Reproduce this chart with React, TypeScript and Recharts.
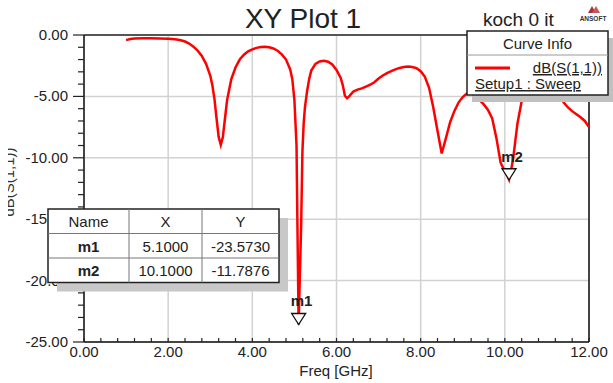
import React from 'react';
import {
  LineChart,
  Line,
  XAxis,
  YAxis,
  CartesianGrid,
  ReferenceLine,
  ReferenceDot,
} from 'recharts';

// Sweep frequencies (GHz) and return loss dB(S(1,1))
const freqGHz = [
  1.0, 1.1, 1.2, 1.4, 1.6, 1.8, 2.0, 2.1, 2.2, 2.3, 2.4, 2.5, 2.6, 2.7, 2.8, 2.9,
  3.0, 3.05, 3.1, 3.15, 3.2, 3.25, 3.3, 3.35, 3.4, 3.5, 3.6, 3.7, 3.8, 3.9,
  4.0, 4.1, 4.2, 4.3, 4.4, 4.5, 4.6, 4.7, 4.8, 4.9, 4.95,
  5.0, 5.05, 5.07, 5.1, 5.16, 5.19, 5.22, 5.25, 5.3, 5.35, 5.4, 5.5, 5.6, 5.7, 5.8, 5.9,
  6.0, 6.1, 6.15, 6.2, 6.25, 6.3, 6.4, 6.5, 6.6, 6.7, 6.8, 6.9,
  7.0, 7.1, 7.2, 7.3, 7.4, 7.5, 7.6, 7.7, 7.8, 7.9,
  8.0, 8.1, 8.2, 8.3, 8.4, 8.5, 8.6, 8.7, 8.8, 8.9,
  9.0, 9.1, 9.2, 9.3, 9.4, 9.5, 9.6, 9.7, 9.8, 9.9,
  10.0, 10.05, 10.1, 10.15, 10.2, 10.25, 10.3, 10.4, 10.5, 10.6, 10.8,
  11.0, 11.2, 11.3, 11.4, 11.5, 11.6, 11.7, 11.8, 11.9, 12.0,
];
const s11dB = [
  -0.42, -0.32, -0.29, -0.27, -0.27, -0.28, -0.3, -0.33, -0.37, -0.43, -0.53, -0.7, -0.95, -1.28, -1.7, -2.35,
  -3.3, -4.1, -5.2, -6.8, -8.3, -8.95, -8.3, -6.8, -5.3, -3.6, -2.65, -2.0, -1.6, -1.33,
  -1.17, -1.05, -0.98, -0.96, -1.0, -1.1, -1.28, -1.58, -2.0, -2.8, -3.6,
  -5.3, -9.0, -15.0, -23.573, -15.5, -9.5, -7.2, -5.9, -4.6, -3.6, -2.9, -2.35, -2.15, -2.1, -2.18, -2.4,
  -2.85, -3.5, -4.1, -4.95, -5.15, -5.0, -4.6, -4.45, -4.35, -4.2, -4.05, -3.85,
  -3.55, -3.3, -3.1, -2.95, -2.8, -2.68, -2.6, -2.57, -2.6, -2.7,
  -2.95, -3.4, -4.3, -5.9, -7.8, -9.65, -8.4, -7.1, -6.2, -5.5,
  -5.05, -4.75, -4.7, -4.9, -5.3, -5.65, -6.1, -6.8, -8.4, -10.4,
  -11.1, -11.4, -11.7876, -11.0, -10.0, -8.6, -7.2, -5.4, -4.3, -3.6, -3.2,
  -3.5, -4.3, -4.95, -5.5, -5.9, -6.2, -6.45, -6.7, -7.0, -7.5,
];

// Markers
const markerNames = ['m1', 'm2'];
const markerX = [5.1, 10.1];
const markerY = [-23.573, -11.7876];

// Axis ticks
const xMajorTicks = [0, 2, 4, 6, 8, 10, 12];
const xMinorPerMajor = 5; // minor tick every 0.4 GHz
const yMajorTicks = [0, -5, -10, -15, -20, -25];

const xTicks: number[] = [];
for (let k = 0; k <= 12 * xMinorPerMajor / 2; k++) xTicks.push((k * 2) / xMinorPerMajor);
const yTicks: number[] = [];
for (let k = 0; k <= 25; k++) yTicks.push(-k);

const data = freqGHz.map((f, i) => ({ f, db: s11dB[i] }));

const FONT = '"Liberation Sans", Arial, sans-serif';
const W = 613;
const H = 383;

const isMajorX = (v: number) => xMajorTicks.some((t) => Math.abs(t - v) < 1e-6);
const isMajorY = (v: number) => yMajorTicks.some((t) => Math.abs(t - v) < 1e-6);

const XTick = (props: any) => {
  const { x, y, payload } = props;
  const major = isMajorX(payload.value);
  return (
    <g>
      <line x1={x} x2={x} y1={y} y2={y - 4} stroke="#222" strokeWidth={1.2} />
      {major && (
        <text x={x} y={y + 15} textAnchor="middle" fontFamily={FONT} fontSize={15} fill="#222">
          {payload.value.toFixed(2)}
        </text>
      )}
    </g>
  );
};

const YTick = (props: any) => {
  const { x, y, payload } = props;
  const major = isMajorY(payload.value);
  const len = major ? 11 : 6;
  return (
    <g>
      <line x1={x - len} x2={x} y1={y} y2={y} stroke="#222" strokeWidth={1.2} />
      {major && (
        <text x={x - 16} y={y + 5} textAnchor="end" fontFamily={FONT} fontSize={15} fill="#222">
          {payload.value.toFixed(2)}
        </text>
      )}
    </g>
  );
};

const makeMarker = (name: string) => (props: any) => {
  const { cx, cy } = props;
  return (
    <g>
      <path
        d={`M${cx} ${cy} L${cx - 7} ${cy - 11} L${cx + 7} ${cy - 11} Z`}
        fill="#fff"
        stroke="#111"
        strokeWidth={1.3}
      />
      <text x={cx + 3} y={cy - 18} textAnchor="middle" fontFamily={FONT} fontSize={15} fontWeight="bold" fill="#222">
        {name}
      </text>
    </g>
  );
};

// Marker readout table
const MarkerTable = () => {
  const left = 48;
  const top = 209;
  const colX = [48, 129, 202, 279];
  const rowH = 24.5;
  const rows = markerNames.length + 1;
  const width = colX[3] - colX[0];
  const height = rowH * rows;
  const center = (i: number) => (colX[i] + colX[i + 1]) / 2;
  return (
    <g fontFamily={FONT} fontSize={15} fill="#222">
      <rect x={left + 9} y={top + 9} width={width} height={height} fill="#c8c8c8" />
      <rect x={left} y={top} width={width} height={height} fill="#fff" stroke="#222" strokeWidth={1.5} />
      {[1, 2].map((i) => (
        <line key={`c${i}`} x1={colX[i]} x2={colX[i]} y1={top} y2={top + height} stroke="#777" strokeWidth={1} />
      ))}
      {Array.from({ length: rows - 1 }, (_, i) => (
        <line key={`r${i}`} x1={left} x2={left + width} y1={top + rowH * (i + 1)} y2={top + rowH * (i + 1)} stroke="#777" strokeWidth={1} />
      ))}
      {['Name', 'X', 'Y'].map((h, i) => (
        <text key={h} x={center(i)} y={top + 18} textAnchor="middle">{h}</text>
      ))}
      {markerNames.map((n, r) => {
        const yy = top + rowH * (r + 1) + 18;
        return (
          <g key={n}>
            <text x={center(0)} y={yy} textAnchor="middle" fontWeight="bold">{n}</text>
            <text x={center(1)} y={yy} textAnchor="middle">{markerX[r].toFixed(4)}</text>
            <text x={center(2)} y={yy} textAnchor="middle">{markerY[r].toFixed(4)}</text>
          </g>
        );
      })}
    </g>
  );
};

// Curve info box
const CurveInfo = () => {
  const x = 467;
  const y = 31;
  const w = 141;
  const h = 64;
  return (
    <g fontFamily={FONT} fontSize={15} fill="#222">
      <rect x={x + 5} y={y + 7} width={w} height={h} fill="#c0c0c0" />
      <rect x={x} y={y} width={w} height={h} fill="#fff" stroke="#222" strokeWidth={1.5} />
      <line x1={x} x2={x + w} y1={55} y2={55} stroke="#999" strokeWidth={1} />
      <text x={x + w / 2} y={49} textAnchor="middle">Curve Info</text>
      <line x1={475} x2={510} y1={68} y2={68} stroke="#ff0000" strokeWidth={3} />
      <text x={602} y={73} textAnchor="end" textDecoration="underline">dB(S(1,1))</text>
      <text x={475} y={89} textDecoration="underline">Setup1 : Sweep</text>
    </g>
  );
};

export default function App() {
  return (
    <div style={{ position: 'absolute', left: 0, top: 0, width: W, height: H, background: '#fff' }}>
      <LineChart width={W} height={H} data={data} margin={{ top: 35, right: 24, bottom: 0, left: 0 }}>
        <CartesianGrid
          stroke="#d2d2d2"
          strokeWidth={1.5}
          verticalValues={xMajorTicks}
          horizontalValues={yMajorTicks}
        />
        <XAxis
          dataKey="f"
          type="number"
          domain={[0, 12]}
          ticks={xTicks}
          interval={0}
          height={41}
          tickSize={0}
          tickMargin={0}
          tickLine={false}
          tick={<XTick />}
          axisLine={{ stroke: '#111', strokeWidth: 1.5 }}
          allowDataOverflow
        />
        <YAxis
          type="number"
          domain={[-25, 0]}
          ticks={yTicks}
          interval={0}
          width={84}
          tickSize={0}
          tickMargin={0}
          tickLine={false}
          tick={<YTick />}
          axisLine={{ stroke: '#111', strokeWidth: 1.5 }}
          allowDataOverflow
        />
        <ReferenceLine y={0} stroke="#555" strokeWidth={2} />
        <ReferenceLine x={12} stroke="#111" strokeWidth={1.5} />
        <Line
          dataKey="db"
          type="linear"
          stroke="#ff0000"
          strokeWidth={2.5}
          dot={false}
          isAnimationActive={false}
        />
        {markerNames.map((n, i) => (
          <ReferenceDot
            key={n}
            x={markerX[i]}
            y={markerY[i]}
            r={0}
            ifOverflow="visible"
            shape={makeMarker(n)}
          />
        ))}
      </LineChart>
      <svg width={W} height={H} style={{ position: 'absolute', left: 0, top: 0 }}>
        <defs>
          <clipPath id="ylabClip">
            <rect x={8} y={0} width={20} height={H} />
          </clipPath>
          <clipPath id="titleClip">
            <rect x={0} y={9} width={W} height={30} />
          </clipPath>
        </defs>
        <g clipPath="url(#titleClip)">
          <text x={303} y={28} textAnchor="middle" fontFamily={FONT} fontSize={28} fill="#222">XY Plot 1</text>
          <text x={483} y={26} fontFamily={FONT} fontSize={19} fill="#222">koch 0 it</text>
        </g>
        <g>
          <path d="M588 13 L592 6 L596 13 Z" fill="#a33" />
          <path d="M592 13 L596 6 L600 13 Z" fill="#c55" />
          <text x={593} y={21} textAnchor="middle" fontFamily={FONT} fontSize={6.5} fontWeight="bold" fill="#333">ANSOFT</text>
        </g>
        <g clipPath="url(#ylabClip)">
          <text
            transform="translate(14 182) rotate(-90)"
            textAnchor="middle"
            fontFamily={FONT}
            fontSize={15}
            fill="#333"
          >
            dB(S(1,1))
          </text>
        </g>
        <text x={336} y={376} textAnchor="middle" fontFamily={FONT} fontSize={15} fill="#222">Freq [GHz]</text>
        <MarkerTable />
        <CurveInfo />
      </svg>
    </div>
  );
}
